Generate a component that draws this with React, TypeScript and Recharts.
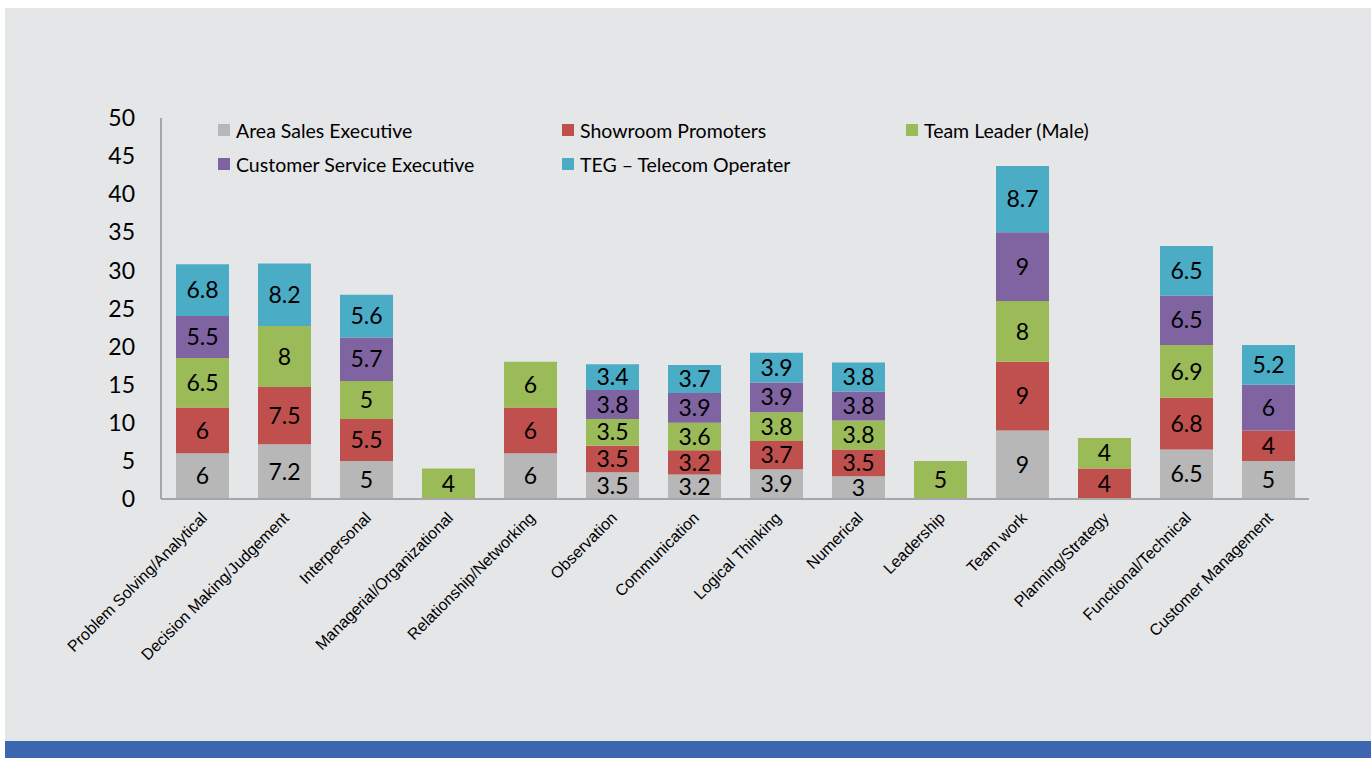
import React from 'react';
import { BarChart, Bar, XAxis, YAxis, LabelList } from 'recharts';

const categories = [
  'Problem Solving/Analytical',
  'Decision Making/Judgement',
  'Interpersonal',
  'Managerial/Organizational',
  'Relationship/Networking',
  'Observation',
  'Communication',
  'Logical Thinking',
  'Numerical',
  'Leadership',
  'Team work',
  'Planning/Strategy',
  'Functional/Technical',
  'Customer Management',
];

const areaSales = [6, 7.2, 5, null, 6, 3.5, 3.2, 3.9, 3, null, 9, null, 6.5, 5];
const showroom = [6, 7.5, 5.5, null, 6, 3.5, 3.2, 3.7, 3.5, null, 9, 4, 6.8, 4];
const teamLeader = [6.5, 8, 5, 4, 6, 3.5, 3.6, 3.8, 3.8, 5, 8, 4, 6.9, null];
const customerService = [5.5, null, 5.7, null, null, 3.8, 3.9, 3.9, 3.8, null, 9, null, 6.5, 6];
const telecom = [6.8, 8.2, 5.6, null, null, 3.4, 3.7, 3.9, 3.8, null, 8.7, null, 6.5, 5.2];

const yTicks = [0, 5, 10, 15, 20, 25, 30, 35, 40, 45, 50];

const series = [
  { key: 'ase', name: 'Area Sales Executive', color: '#b7b7b7', values: areaSales },
  { key: 'sp', name: 'Showroom Promoters', color: '#c0504d', values: showroom },
  { key: 'tl', name: 'Team Leader (Male)', color: '#9bbb59', values: teamLeader },
  { key: 'cse', name: 'Customer Service Executive', color: '#8064a2', values: customerService },
  { key: 'teg', name: 'TEG \u2013 Telecom Operater', color: '#4bacc6', values: telecom },
];

const data = categories.map((name, i) => {
  const row: Record<string, any> = { name };
  series.forEach((s) => {
    row[s.key] = s.values[i];
  });
  return row;
});

const FONT = 'Lato, "Open Sans", sans-serif';

const XTick = (props: any) => {
  const { x, y, payload } = props;
  return (
    <g transform={`translate(${x + 6},${y + 12})`}>
      <text
        transform="rotate(-45)"
        textAnchor="end"
        fontFamily="'Liberation Sans', Arial, sans-serif"
        fontSize={16}
        fill="#000"
      >
        {payload.value}
      </text>
    </g>
  );
};

const ChartLegend = () => (
  <div
    style={{
      position: 'absolute',
      left: 213,
      top: 105,
      display: 'flex',
      flexWrap: 'wrap',
      width: 1040,
      fontFamily: FONT,
      fontSize: 19.5,
      color: '#000',
    }}
  >
    {series.map((s) => (
      <div key={s.key} style={{ width: 344, height: 34, display: 'flex', alignItems: 'center' }}>
        <span style={{ width: 12, height: 12, background: s.color, marginRight: 6, display: 'inline-block' }} />
        <span>{s.name}</span>
      </div>
    ))}
  </div>
);

export default function App() {
  return (
    <div style={{ position: 'absolute', left: 5, top: 8, width: 1366, height: 750, background: '#e5e6e8' }}>
      <style>{'body{margin:0}'}</style>
      <BarChart
        width={1361}
        height={733}
        data={data}
        margin={{ top: 110, right: 57, left: 0, bottom: 0 }}
        barSize={53}
      >
        <XAxis
          dataKey="name"
          interval={0}
          height={242}
          tick={<XTick />}
          tickLine={false}
          axisLine={{ stroke: '#a6a6a6', strokeWidth: 2 }}
        />
        <YAxis
          domain={[0, 50]}
          ticks={yTicks}
          width={156}
          tickLine={false}
          tickMargin={20}
          axisLine={{ stroke: '#a6a6a6', strokeWidth: 2 }}
          tick={{ fontSize: 23, fill: '#000', fontFamily: FONT }}
          interval={0}
        />
        {series.map((s) => (
          <Bar key={s.key} dataKey={s.key} name={s.name} stackId="a" fill={s.color} isAnimationActive={false}>
            <LabelList dataKey={s.key} position="center" fill="#000" fontSize={23} fontFamily={FONT} />
          </Bar>
        ))}
      </BarChart>
      <ChartLegend />
      <div style={{ position: 'absolute', left: 0, top: 733, width: 1366, height: 17, background: '#3c67b0' }} />
    </div>
  );
}
